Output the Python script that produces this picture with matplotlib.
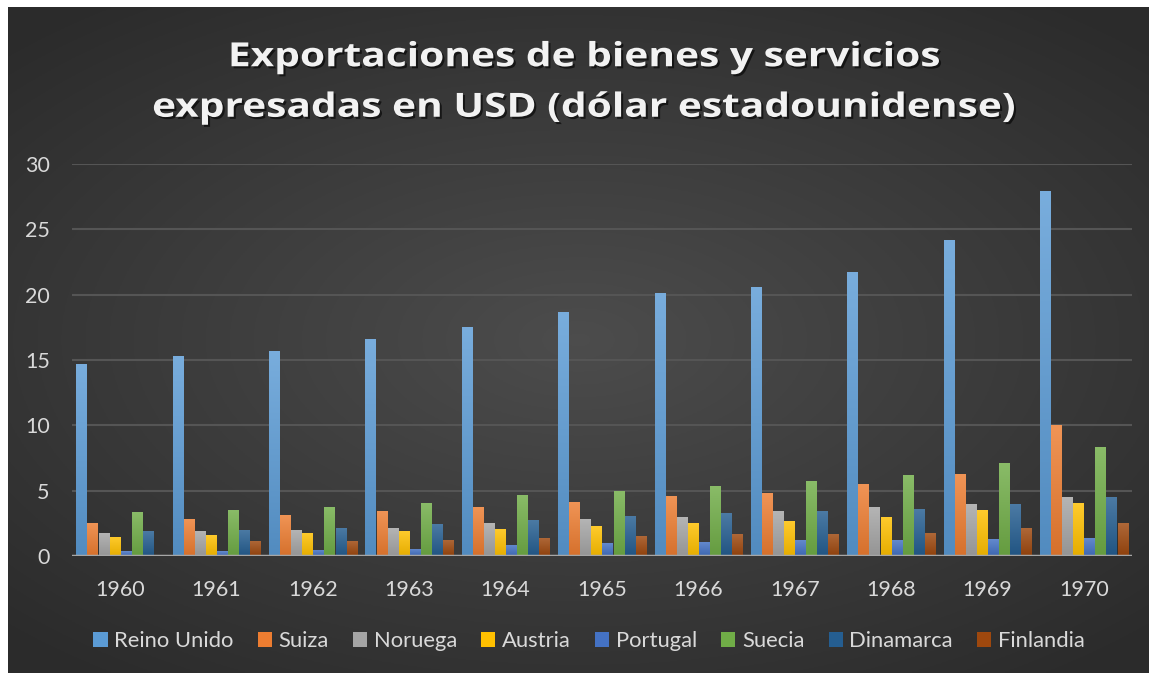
import numpy as np
import matplotlib.pyplot as plt
import matplotlib.patheffects as pe
from matplotlib.colors import to_rgb
from matplotlib.transforms import Affine2D

years = ['1960', '1961', '1962', '1963', '1964', '1965', '1966', '1967', '1968', '1969', '1970']
paises = ['Reino Unido', 'Suiza', 'Noruega', 'Austria', 'Portugal', 'Suecia', 'Dinamarca', 'Finlandia']

reino_unido = [14.66, 15.27, 15.66, 16.58, 17.5, 18.65, 20.1, 20.57, 21.7, 24.2, 27.9]
suiza = [2.54, 2.85, 3.15, 3.46, 3.77, 4.15, 4.62, 4.85, 5.54, 6.3, 10.05]
noruega = [1.77, 1.92, 2.0, 2.15, 2.54, 2.85, 3.0, 3.46, 3.77, 4.0, 4.54]
austria = [1.46, 1.62, 1.77, 1.92, 2.08, 2.31, 2.54, 2.69, 3.0, 3.55, 4.08]
portugal = [0.38, 0.38, 0.46, 0.54, 0.85, 1.0, 1.08, 1.23, 1.23, 1.33, 1.4]
suecia = [3.38, 3.54, 3.77, 4.08, 4.69, 5.0, 5.38, 5.77, 6.23, 7.14, 8.37]
dinamarca = [1.92, 2.0, 2.15, 2.46, 2.77, 3.08, 3.31, 3.46, 3.62, 4.0, 4.54]
finlandia = [0, 1.15, 1.15, 1.23, 1.38, 1.54, 1.69, 1.69, 1.77, 2.17, 2.55]

series = [reino_unido, suiza, noruega, austria, portugal, suecia, dinamarca, finlandia]
colors = ['#5B9BD5', '#ED7D31', '#A5A5A5', '#FFC000', '#4472C4', '#70AD47', '#255E91', '#9E480E']

plt.rcParams['font.family'] = ['Lato', 'DejaVu Sans']
txt_color = '#D9D9D9'


class Stretched(pe.AbstractPathEffect):
    # widen the title glyphs horizontally around cx (Excel uses letter spacing)
    def __init__(self, inner, sx, cx):
        super().__init__()
        self.inner = inner
        self.sx = sx
        self.cx = cx

    def draw_path(self, renderer, gc, tpath, affine, rgbFace=None):
        t = affine + Affine2D().translate(-self.cx, 0).scale(self.sx, 1).translate(self.cx, 0)
        self.inner.draw_path(renderer, gc, tpath, t, rgbFace)


fig = plt.figure(figsize=(11.49, 6.73), dpi=100)
fig.patch.set_facecolor('white')

# dark radial gradient background (white strip left/top like the screenshot)
bg = fig.add_axes([8 / 1149, 0, 1 - 8 / 1149, 1 - 7 / 673])
bg.set_axis_off()
yy, xx = np.mgrid[-1:1:300j, -1:1:500j]
r = np.sqrt(xx ** 2 + (yy * 1.1) ** 2)
shade = 0.30 - 0.13 * np.clip(r, 0, 1.4) / 1.4
shade = np.clip(shade, 0.15, 0.30)
bg.imshow(np.dstack([shade, shade, shade]), aspect='auto', extent=[0, 1, 0, 1])
bg.set_xlim(0, 1)
bg.set_ylim(0, 1)

ax = fig.add_axes([72 / 1149, 1 - 556 / 673, (1132 - 72) / 1149, (556 - 164) / 673])
ax.patch.set_alpha(0)

x = np.arange(len(years))
step = 0.92 / len(series)
t = np.linspace(0, 1, 64)[:, None, None]
for i, (vals, c, name) in enumerate(zip(series, colors, paises)):
    bars = ax.bar(x + (i - 3.5) * step, vals, width=step * 0.91, color=c, label=name, zorder=3)
    base = np.array(to_rgb(c))
    top = base + (1 - base) * 0.18
    bottom = base * 0.9
    grad = (top * (1 - t) + bottom * t)
    for rect in bars:
        if rect.get_height() <= 0:
            continue
        im = ax.imshow(grad, extent=[rect.get_x(), rect.get_x() + rect.get_width(), 0, rect.get_height()],
                       aspect='auto', origin='upper', zorder=3.1, interpolation='bilinear')
        im.set_clip_path(rect)

ax.set_ylim(0, 30)
ax.set_xlim(-0.5, len(years) - 0.5)
ax.set_yticks(range(0, 31, 5))
ax.set_xticks(x)
ax.set_xticklabels(years)
ax.grid(axis='y', color='#555555', linewidth=1.5, zorder=0)
ax.axhline(0, color='#A6A6A6', linewidth=2.5, zorder=4)
for s in ax.spines.values():
    s.set_visible(False)
ax.tick_params(axis='both', length=0, colors=txt_color, labelsize=15.5)
ax.tick_params(axis='y', pad=16)
ax.tick_params(axis='x', pad=17)

cx = 584
fig.text(cx / 1149, 1 - 83 / 673, 'Exportaciones de bienes y servicios\nexpresadas en USD (dólar estadounidense)',
         ha='center', va='center', color='#F2F2F2', fontsize=24, fontweight='bold',
         family=['Open Sans', 'DejaVu Sans'], linespacing=1.7,
         path_effects=[Stretched(pe.SimplePatchShadow(offset=(1.5, -1.5), shadow_rgbFace='black', alpha=0.6), 1.22, cx),
                       Stretched(pe.Normal(), 1.22, cx)])

leg = fig.legend(loc='center', bbox_to_anchor=(589 / 1149, 1 - 641 / 673), ncol=8, frameon=False,
                 fontsize=15.8, handlelength=0.65, handleheight=0.65, handletextpad=0.3,
                 columnspacing=1.1, labelcolor=txt_color)

fig.savefig('out.png', dpi=100, facecolor=fig.get_facecolor())
